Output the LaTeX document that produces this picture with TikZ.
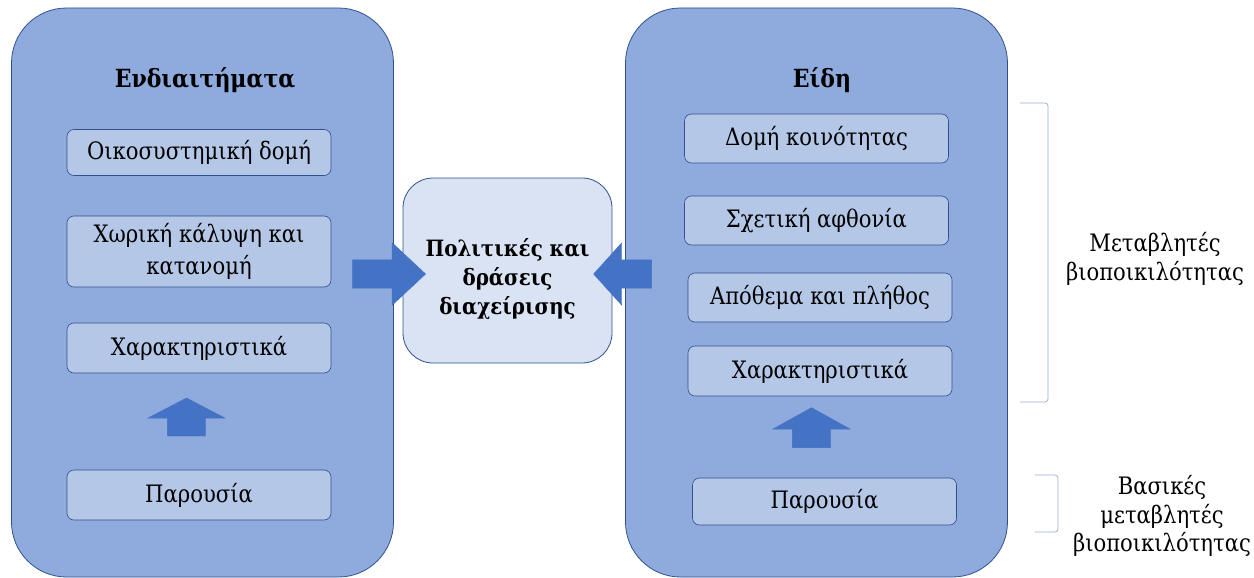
\documentclass[tikz,border=0pt]{standalone}
\usepackage{fontspec}
\setmainfont{DejaVu Serif}[FakeStretch=0.88]
\usepackage{tikz}
\usetikzlibrary{positioning, shapes.arrows}
\definecolor{outerblue}{HTML}{8FAADC}
\definecolor{innerblue}{HTML}{B4C7E7}
\definecolor{paleblue}{HTML}{DAE3F3}
\definecolor{edgeblue}{HTML}{2F528F}
\definecolor{arrowblue}{HTML}{4472C4}
\definecolor{bracegray}{HTML}{9AAAD0}
\begin{document}
\begin{tikzpicture}[x=1pt,y=-1pt,font=\fontsize{24}{32}\selectfont,
  panel/.style={draw=edgeblue,fill=outerblue,rounded corners=55pt,line width=0.8pt,minimum width=382pt,minimum height=569pt},
  item/.style={draw=edgeblue,fill=innerblue,rounded corners=7pt,line width=0.6pt,align=center,minimum width=264pt,minimum height=49pt,inner sep=2pt},
  hub/.style={draw=edgeblue,fill=paleblue,rounded corners=30pt,line width=0.8pt,align=center,minimum width=209pt,minimum height=185pt,text height=92pt,font=\fontsize{22.5}{29}\selectfont\bfseries},
  ttl/.style={font=\fontsize{25}{30}\selectfont\bfseries},
  blk/.style={single arrow,fill=arrowblue,draw=arrowblue,inner xsep=0pt,inner ysep=14pt,single arrow head extend=17pt},
  blkup/.style={single arrow,rotate=90,fill=arrowblue,draw=arrowblue,inner xsep=0pt,inner ysep=19pt,single arrow head extend=19.5pt,single arrow tip angle=125},
  brk/.style={draw=bracegray,line width=0.7pt,rounded corners=3pt},
  lbl/.style={align=center,font=\fontsize{24}{28.5}\selectfont}]
  \useasboundingbox (0,0) rectangle (1254,578);
  % habitats
  \node[panel](hab) at (202.5,292.5){};
  \node[ttl](habT) at (205,80){Ενδιαιτήματα};
  \node[item,minimum height=46pt](eco) at (199,152.5){Οικοσυστημική δομή};
  \node[item,minimum height=71pt](space) at (199,251.5){Χωρική κάλυψη και\\κατανομή};
  \node[item,minimum height=50pt](trL) at (199,348){Χαρακτηριστικά};
  \node[item,minimum height=50pt](prL) at (199,495){Παρουσία};
  \node[blkup,minimum height=38pt](upL) at (186.5,422){};
  % species
  \node[panel](spc) at (816.5,292.5){};
  \node[ttl](spcT) at (822,80){Είδη};
  \node[item](comm) at (816.5,138.5){Δομή κοινότητας};
  \node[item](abund) at (816.5,220.5){Σχετική αφθονία};
  \node[item](stock) at (820,297.5){Απόθεμα και πλήθος};
  \node[item,minimum height=50pt](trR) at (820,371){Χαρακτηριστικά};
  \node[item,minimum height=47pt](prR) at (824.5,501.5){Παρουσία};
  \node[blkup,minimum height=40pt,single arrow tip angle=122](upR) at (811.5,433){};
  % management
  \node[hub](mgmt) at (507.5,270.5){Πολιτικές και\\δράσεις\\διαχείρισης};
  \node[blk,minimum height=73pt,single arrow tip angle=86](inL) at (381.5,274){};
  \node[blk,minimum height=58pt,single arrow tip angle=96,shape border rotate=180](inR) at (629,274){};
  % brackets
  \draw[brk](1020,103)--(1048,103)--(1048,402)--(1020,402);
  \draw[brk](1035,475)--(1058,475)--(1058,532)--(1035,532);
  \node[lbl](varB) at (1155,259){Μεταβλητές\\βιοποικιλότητας};
  \node[lbl](essB) at (1162,516){Βασικές\\μεταβλητές\\βιοποικιλότητας};
\end{tikzpicture}
\end{document}
